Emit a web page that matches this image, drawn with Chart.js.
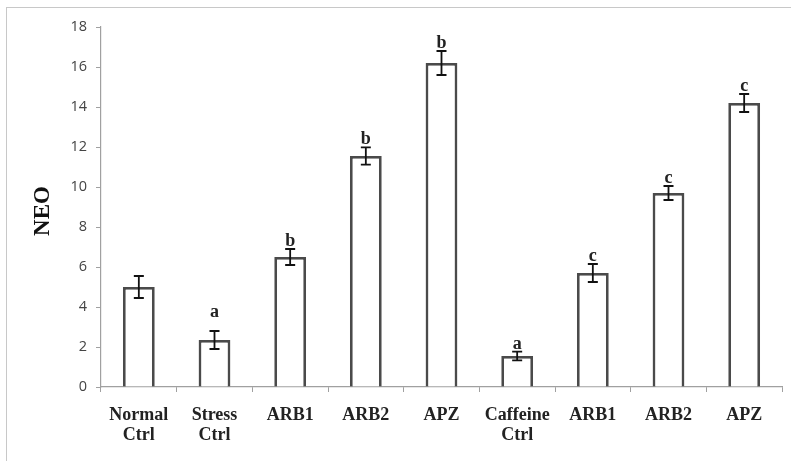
<!DOCTYPE html>
<html>
<head>
<meta charset="utf-8">
<script src="https://cdn.jsdelivr.net/npm/chart.js@4"></script>
<style>
  html, body { margin: 0; padding: 0; background: #fff; }
  #wrap { position: relative; width: 791px; height: 461px; }
  #frame { position: absolute; left: 6px; top: 7px; width: 800px; height: 470px;
           border-left: 1.5px solid #c8c8c8; border-top: 1.5px solid #c8c8c8; }
  canvas { position: absolute; left: 0; top: 0; }
</style>
</head>
<body>
<div id="wrap">
  <div id="frame"></div>
  <canvas id="neo-chart" width="791" height="461"></canvas>
</div>
<script>
// data
const groups = [['Normal', 'Ctrl'], ['Stress', 'Ctrl'], 'ARB1', 'ARB2', 'APZ', ['Caffeine', 'Ctrl'], 'ARB1', 'ARB2', 'APZ'];
const neoMeans = [5.0, 2.35, 6.5, 11.55, 16.2, 1.55, 5.7, 9.7, 14.2];
const neoErrors = [0.55, 0.45, 0.4, 0.43, 0.6, 0.22, 0.45, 0.35, 0.45];
const sigLetters = ['', 'a', 'b', 'b', 'b', 'a', 'c', 'c', 'c'];
const yTicks = [0, 2, 4, 6, 8, 10, 12, 14, 16, 18];

const serif = '"Liberation Serif", "DejaVu Serif", serif';

// error bars + letters + y title
const extras = {
    id: 'extras',
    afterDatasetsDraw(chart) {
        const ctx = chart.ctx;
        const x = chart.scales.x, y = chart.scales.y;
        ctx.save();
        ctx.strokeStyle = '#111';
        ctx.lineWidth = 1.8;
        neoMeans.forEach((m, i) => {
            const cx = x.getPixelForValue(i);
            const top = y.getPixelForValue(m + neoErrors[i]);
            const bot = y.getPixelForValue(m - neoErrors[i]);
            ctx.beginPath();
            ctx.moveTo(cx, top); ctx.lineTo(cx, bot);
            ctx.moveTo(cx - 5, top); ctx.lineTo(cx + 5, top);
            ctx.moveTo(cx - 5, bot); ctx.lineTo(cx + 5, bot);
            ctx.stroke();
            if (sigLetters[i]) {
                ctx.fillStyle = '#222';
                ctx.font = 'bold 18px ' + serif;
                ctx.textAlign = 'center';
                ctx.textBaseline = 'alphabetic';
                const gap = i === 1 ? 14 : 3;
                ctx.fillText(sigLetters[i], cx, top - gap);
            }
        });
        // y axis title
        ctx.translate(43, 211);
        ctx.rotate(-Math.PI / 2);
        ctx.fillStyle = '#111';
        ctx.font = 'bold 23px ' + serif;
        ctx.textAlign = 'center';
        ctx.textBaseline = 'middle';
        ctx.fillText('NEO', 0, 0);
        ctx.restore();
    }
};

new Chart(document.getElementById('neo-chart').getContext('2d'), {
    type: 'bar',
    data: {
        labels: groups,
        datasets: [{
            data: neoMeans,
            backgroundColor: '#ffffff',
            borderColor: '#4a4a4a',
            borderWidth: 2.8,
            barPercentage: 0.42,
            categoryPercentage: 1.0
        }]
    },
    options: {
        responsive: false,
        animation: false,
        events: [],
        layout: { padding: { top: 27, right: 9, left: 0, bottom: 0 } },
        plugins: { legend: { display: false }, tooltip: { enabled: false } },
        scales: {
            x: {
                offset: true,
                grid: { offset: true, drawOnChartArea: false, drawTicks: true, tickLength: 5, color: '#a0a0a0' },
                border: { color: '#a0a0a0', width: 1.2 },
                ticks: {
                    color: '#222',
                    font: { family: serif, size: 18, weight: 'bold', lineHeight: 1.12 },
                    padding: 13,
                    maxRotation: 0,
                    autoSkip: false
                },
                afterFit: s => { s.height = 74; }
            },
            y: {
                min: 0,
                max: 18,
                afterBuildTicks: s => { s.ticks = yTicks.map(v => ({ value: v })); },
                grid: { drawOnChartArea: false, drawTicks: true, tickLength: 5, color: '#a0a0a0' },
                border: { color: '#a0a0a0', width: 1.2 },
                ticks: {
                    color: '#444',
                    font: { family: '"Open Sans", "Liberation Sans", sans-serif', size: 14.5 },
                    padding: 9
                },
                afterFit: s => { s.width = 101; }
            }
        }
    },
    plugins: [extras]
});
</script>
</body>
</html>
